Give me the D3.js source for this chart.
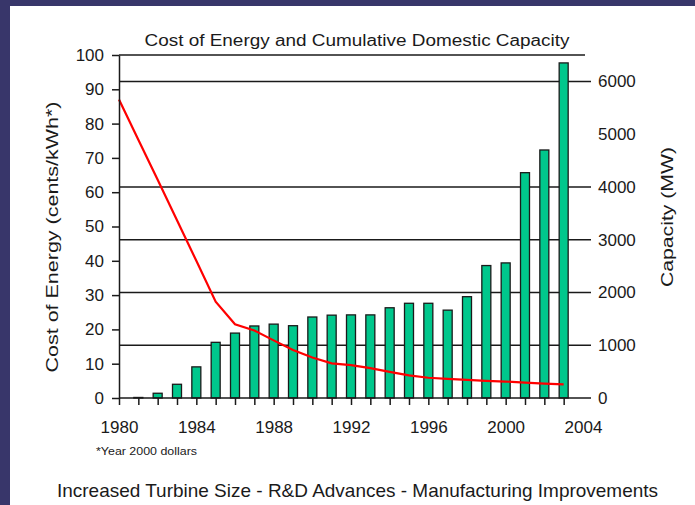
<!DOCTYPE html>
<html>
<head>
<meta charset="utf-8">
<script src="https://cdn.jsdelivr.net/npm/d3@7"></script>
<style>
  body { margin: 0; background: #fff; }
  text { font-family: "Liberation Sans", Arial, sans-serif; fill: #1a1a1a; }
</style>
</head>
<body>
<div id="chart"></div>
<script>
// Cumulative domestic capacity (MW), one bar per year
const barYears = [1981, 1982, 1983, 1984, 1985, 1986, 1987, 1988, 1989, 1990, 1991, 1992,
  1993, 1994, 1995, 1996, 1997, 1998, 1999, 2000, 2001, 2002, 2003];
const capacity = [10, 90, 260, 590, 1055, 1230, 1365, 1400, 1370, 1535, 1570, 1575,
  1575, 1710, 1795, 1795, 1665, 1920, 2510, 2560, 4270, 4700, 6350];

// Cost of energy (cents/kWh, year 2000 dollars)
const costYears = [1980, 1981, 1982, 1983, 1984, 1985, 1986, 1987, 1988, 1989, 1990, 1991,
  1992, 1993, 1994, 1995, 1996, 1997, 1998, 1999, 2000, 2001, 2002, 2003];
const cost = [87, 75.3, 63.6, 51.8, 40, 28.1, 21.5, 19.7, 16.8, 14, 11.8, 10.1,
  9.6, 8.7, 7.6, 6.6, 5.9, 5.6, 5.3, 5.0, 4.8, 4.5, 4.2, 4.0];

// Tick values
const costTicks = [0, 10, 20, 30, 40, 50, 60, 70, 80, 90, 100];
const capTicks = [0, 1000, 2000, 3000, 4000, 5000, 6000];
const capGrid = [1000, 2000, 3000, 4000, 6000];
const yearLabels = [1980, 1984, 1988, 1992, 1996, 2000, 2004];
const yearTicks = [1980, 1981, 1982, 1983, 1984, 1985, 1986, 1987, 1988, 1989, 1990, 1991,
  1992, 1993, 1994, 1995, 1996, 1997, 1998, 1999, 2000, 2001, 2002, 2003];

const W = 695, H = 505;
const plotLeft = 119, plotRight = 591, plotTop = 55, plotBottom = 398;

const svg = d3.select('#chart')
  .append('svg')
  .attr('width', W)
  .attr('height', H);

// slide frame
svg.append('rect').attr('width', W).attr('height', H).attr('fill', '#fff');
svg.append('rect').attr('width', W).attr('height', 6).attr('fill', '#38366a');
svg.append('rect').attr('width', 10).attr('height', H).attr('fill', '#38366a');

// scales
const x = d3.scaleLinear().domain([1980, 2004]).range([plotLeft, 583]);
const yL = d3.scaleLinear().domain([0, 100]).range([plotBottom, plotTop]);
const yR = d3.scaleLinear().domain([0, 6500]).range([plotBottom, plotTop]);

// title
svg.append('text')
  .attr('x', 357)
  .attr('y', 46)
  .attr('text-anchor', 'middle')
  .attr('textLength', 425)
  .attr('lengthAdjust', 'spacingAndGlyphs')
  .style('font-size', '16px')
  .text('Cost of Energy and Cumulative Domestic Capacity');

// gridlines from the capacity axis
svg.append('g')
  .selectAll('line')
  .data(capGrid)
  .join('line')
  .attr('x1', plotLeft)
  .attr('x2', plotRight)
  .attr('y1', d => yR(d))
  .attr('y2', d => yR(d))
  .attr('stroke', '#1a1a1a')
  .attr('stroke-width', 1.5);

// top border line
svg.append('line')
  .attr('x1', plotLeft)
  .attr('x2', 585)
  .attr('y1', yL(100))
  .attr('y2', yL(100))
  .attr('stroke', '#1a1a1a')
  .attr('stroke-width', 1.5);

// capacity bars
svg.append('g')
  .selectAll('rect')
  .data(barYears)
  .join('rect')
  .attr('x', d => x(d) - 4.5)
  .attr('width', 9)
  .attr('y', (d, i) => yR(capacity[i]))
  .attr('height', (d, i) => yR(0) - yR(capacity[i]))
  .attr('fill', '#00c78c')
  .attr('stroke', '#1a1a1a')
  .attr('stroke-width', 1.3);

// cost line
const line = d3.line()
  .x((d, i) => x(costYears[i]))
  .y(d => yL(d));

svg.append('path')
  .datum(cost)
  .attr('fill', 'none')
  .attr('stroke', '#ff0000')
  .attr('stroke-width', 2.2)
  .attr('d', line);

// left axis
const leftAxis = svg.append('g')
  .attr('transform', `translate(${plotLeft},0)`)
  .call(d3.axisLeft(yL).tickValues(costTicks).tickSize(7).tickSizeOuter(0).tickPadding(8));
leftAxis.selectAll('path, line').attr('stroke', '#1a1a1a').attr('stroke-width', 1.5);
leftAxis.selectAll('text').style('font-size', '17px').attr('fill', '#1a1a1a');

// bottom axis: line + yearly ticks
svg.append('line')
  .attr('x1', plotLeft)
  .attr('x2', plotRight)
  .attr('y1', plotBottom)
  .attr('y2', plotBottom)
  .attr('stroke', '#1a1a1a')
  .attr('stroke-width', 1.5);

const bottomTicks = svg.append('g')
  .attr('transform', `translate(0,${plotBottom})`)
  .call(d3.axisBottom(x).tickValues(yearTicks).tickSize(7).tickFormat(''));
bottomTicks.select('.domain').remove();
bottomTicks.selectAll('line').attr('stroke', '#1a1a1a').attr('stroke-width', 1.5);

const bottomLabels = svg.append('g')
  .attr('transform', `translate(0,${plotBottom})`)
  .call(d3.axisBottom(x).tickValues(yearLabels).tickSize(0).tickPadding(23).tickFormat(d3.format('d')));
bottomLabels.select('.domain').remove();
bottomLabels.selectAll('text').style('font-size', '17px').attr('fill', '#1a1a1a');

// right axis: ticks are the gridline ends, labels for every thousand
const rightLabels = svg.append('g')
  .attr('transform', `translate(${plotRight},0)`)
  .call(d3.axisRight(yR).tickValues(capTicks).tickSize(0).tickPadding(7).tickFormat(d3.format('d')));
rightLabels.select('.domain').remove();
rightLabels.selectAll('text').style('font-size', '17px').attr('fill', '#1a1a1a');

// axis titles
svg.append('text')
  .attr('transform', 'translate(58,237) rotate(-90)')
  .attr('text-anchor', 'middle')
  .attr('textLength', 271)
  .attr('lengthAdjust', 'spacingAndGlyphs')
  .style('font-size', '17px')
  .text('Cost of Energy (cents/kWh*)');

svg.append('text')
  .attr('transform', 'translate(673,217) rotate(-90)')
  .attr('text-anchor', 'middle')
  .attr('textLength', 140)
  .attr('lengthAdjust', 'spacingAndGlyphs')
  .style('font-size', '16px')
  .text('Capacity (MW)');

// footnote
svg.append('text')
  .attr('x', 96)
  .attr('y', 455)
  .attr('textLength', 101)
  .attr('lengthAdjust', 'spacingAndGlyphs')
  .style('font-size', '10px')
  .text('*Year 2000 dollars');

// caption
svg.append('text')
  .attr('x', 57)
  .attr('y', 497)
  .attr('textLength', 601)
  .attr('lengthAdjust', 'spacingAndGlyphs')
  .style('font-size', '19px')
  .text('Increased Turbine Size - R&D Advances - Manufacturing Improvements');
</script>
</body>
</html>
